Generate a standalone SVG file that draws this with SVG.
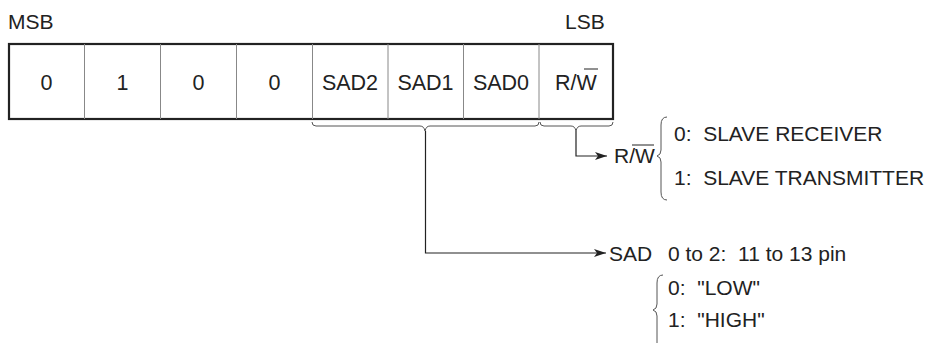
<svg xmlns="http://www.w3.org/2000/svg" width="934" height="343" viewBox="0 0 934 343">
<defs>
<marker id="arr" viewBox="0 0 12 8" refX="12" refY="4" markerWidth="12" markerHeight="8" markerUnits="userSpaceOnUse" orient="auto">
<path d="M0,0 L12,4 L0,8 L3,4 Z" fill="#222"/>
</marker>
</defs>
<style>
text{font-family:"Liberation Sans",Arial,sans-serif;fill:#222;white-space:pre;}
.lbl{font-size:21px;}
.cell{font-size:21.5px;text-anchor:middle;}
.div{stroke:#888;stroke-width:1;}
.ln{fill:none;stroke:#222;stroke-width:1.2;}
.br{fill:none;stroke:#555;stroke-width:1;}
</style>
<rect width="934" height="343" fill="#fff"/>
<g id="labels">
<text class="lbl" x="8" y="29">MSB</text>
<text class="lbl" x="565" y="29">LSB</text>
</g>
<g id="register">
<rect x="9" y="44" width="604" height="75" fill="#fff" stroke="#222" stroke-width="2.2"/>
<line class="div" x1="84.5" y1="44" x2="84.5" y2="119"/>
<line class="div" x1="160.5" y1="44" x2="160.5" y2="119"/>
<line class="div" x1="236.5" y1="44" x2="236.5" y2="119"/>
<line class="div" x1="312.5" y1="44" x2="312.5" y2="119"/>
<line class="div" x1="388" y1="44" x2="388" y2="119"/>
<line class="div" x1="463.5" y1="44" x2="463.5" y2="119"/>
<line class="div" x1="539" y1="44" x2="539" y2="119"/>
<text class="cell" x="46.5" y="90">0</text>
<text class="cell" x="122.5" y="90">1</text>
<text class="cell" x="198.5" y="90">0</text>
<text class="cell" x="274.5" y="90">0</text>
<text class="cell" x="350" y="90">SAD2</text>
<text class="cell" x="425.5" y="90">SAD1</text>
<text class="cell" x="501" y="90">SAD0</text>
<text class="cell" x="576" y="90">R/W</text>
<line x1="584" y1="69" x2="598" y2="69" stroke="#222" stroke-width="1"/>
</g>
<g id="connectors">
<path class="br" d="M312,122 q0,4 4,4 H420 q4,0 5,5 q1,-5 5,-5 H535 q4,0 4,-4"/>
<path class="br" d="M540,122 q0,4 4,4 H571 q4,0 5,5 q1,-5 5,-5 H609 q4,0 4,-4"/>
<path class="ln" d="M425.5,131 V253 H606" marker-end="url(#arr)"/>
<path class="ln" d="M576,131 V156 H607" marker-end="url(#arr)"/>
</g>
<g id="rw-legend">
<text class="lbl" x="614" y="163">R/W</text>
<line x1="632" y1="145" x2="654" y2="145" stroke="#222" stroke-width="1"/>
<path class="br" d="M667,117 q-6,0 -6,8 V150 q0,5 -4,6 q4,1 4,6 V192 q0,8 6,8"/>
<text class="lbl" x="674" y="141">0:  SLAVE RECEIVER</text>
<text class="lbl" x="674" y="185">1:  SLAVE TRANSMITTER</text>
</g>
<g id="sad-legend">
<text class="lbl" x="609" y="261">SAD</text>
<text class="lbl" x="668" y="261">0 to 2:  11 to 13 pin</text>
<path class="br" d="M663,275 q-6,0 -6,8 V304 q0,5 -4,6 q4,1 4,6 V343"/>
<text class="lbl" x="668" y="295">0:  "LOW"</text>
<text class="lbl" x="668" y="327">1:  "HIGH"</text>
</g>
</svg>
